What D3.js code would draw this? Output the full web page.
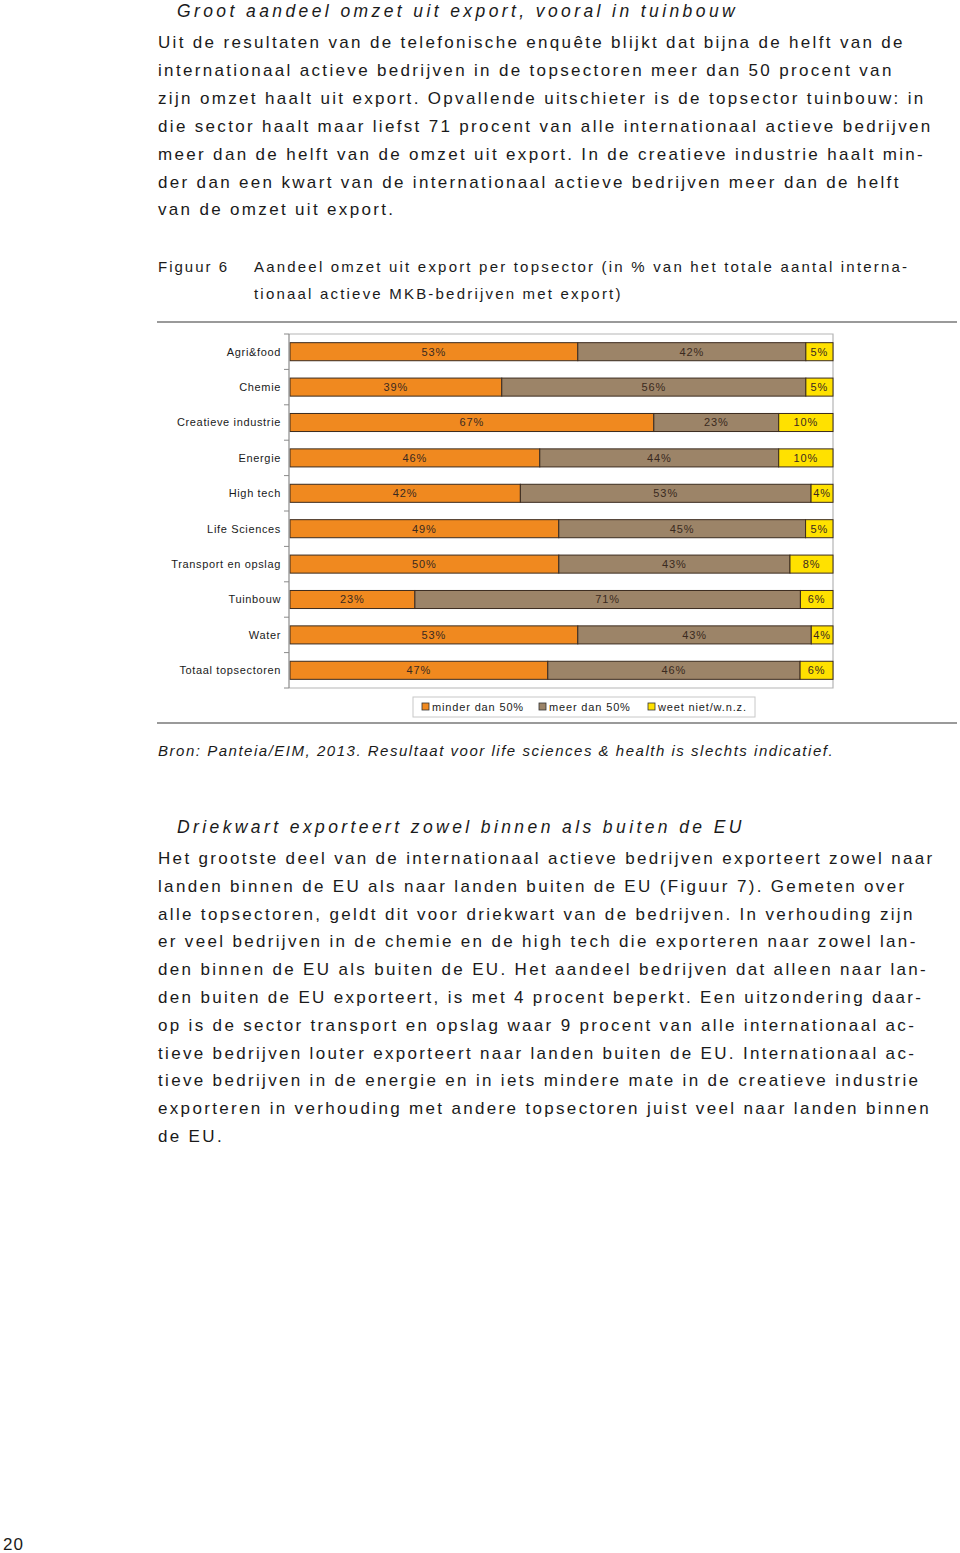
<!DOCTYPE html>
<html>
<head>
<meta charset="utf-8">
<script src="https://cdn.jsdelivr.net/npm/d3@7"></script>
<style>
  body { margin: 0; background: #fff; }
  svg { display: block; font-family: "Liberation Sans", Arial, sans-serif; }
</style>
</head>
<body>
<div id="page"></div>
<script>
// chart data
var sectors = ["Agri&food", "Chemie", "Creatieve industrie", "Energie", "High tech",
  "Life Sciences", "Transport en opslag", "Tuinbouw", "Water", "Totaal topsectoren"];
var minderDan50 = [53, 39, 67, 46, 42, 49, 50, 23, 53, 47];
var meerDan50 = [42, 56, 23, 44, 53, 45, 43, 71, 43, 46];
var weetNiet = [5, 5, 10, 10, 4, 5, 8, 6, 4, 6];
var seriesNames = ["minder dan 50%", "meer dan 50%", "weet niet/w.n.z."];
var seriesColors = ["#f0891f", "#9c8468", "#ffe100"];

// text on the page
var heading1 = "Groot aandeel omzet uit export, vooral in tuinbouw";
var para1 = [
  "Uit de resultaten van de telefonische enquête blijkt dat bijna de helft van de",
  "internationaal actieve bedrijven in de topsectoren meer dan 50 procent van",
  "zijn omzet haalt uit export. Opvallende uitschieter is de topsector tuinbouw: in",
  "die sector haalt maar liefst 71 procent van alle internationaal actieve bedrijven",
  "meer dan de helft van de omzet uit export. In de creatieve industrie haalt min-",
  "der dan een kwart van de internationaal actieve bedrijven meer dan de helft",
  "van de omzet uit export."
];
var captionLines = [
  "Aandeel omzet uit export per topsector (in % van het totale aantal interna-",
  "tionaal actieve MKB-bedrijven met export)"
];
var bron = "Bron: Panteia/EIM, 2013. Resultaat voor life sciences & health is slechts indicatief.";
var heading2 = "Driekwart exporteert zowel binnen als buiten de EU";
var para2 = [
  "Het grootste deel van de internationaal actieve bedrijven exporteert zowel naar",
  "landen binnen de EU als naar landen buiten de EU (Figuur 7). Gemeten over",
  "alle topsectoren, geldt dit voor driekwart van de bedrijven. In verhouding zijn",
  "er veel bedrijven in de chemie en de high tech die exporteren naar zowel lan-",
  "den binnen de EU als buiten de EU. Het aandeel bedrijven dat alleen naar lan-",
  "den buiten de EU exporteert, is met 4 procent beperkt. Een uitzondering daar-",
  "op is de sector transport en opslag waar 9 procent van alle internationaal ac-",
  "tieve bedrijven louter exporteert naar landen buiten de EU. Internationaal ac-",
  "tieve bedrijven in de energie en in iets mindere mate in de creatieve industrie",
  "exporteren in verhouding met andere topsectoren juist veel naar landen binnen",
  "de EU."
];

var width = 960, height = 1553;
var svg = d3.select("#page").append("svg")
  .attr("width", width)
  .attr("height", height);

var textColor = "#1a1a1a";

// headings and paragraphs
svg.append("text")
  .attr("x", 177).attr("y", 17)
  .style("font-size", "17.5px").style("font-style", "italic")
  .style("letter-spacing", "3.4px")
  .attr("fill", textColor)
  .text(heading1);

svg.selectAll(".p1")
  .data(para1).enter().append("text")
  .attr("class", "p1")
  .attr("x", 158)
  .attr("y", function (d, i) { return 48 + i * 27.9; })
  .style("font-size", "17px").style("letter-spacing", "2.33px")
  .attr("fill", textColor)
  .text(function (d) { return d; });

svg.append("text")
  .attr("x", 158).attr("y", 272)
  .style("font-size", "15px").style("letter-spacing", "2px")
  .attr("fill", textColor)
  .text("Figuur 6");

svg.selectAll(".cap")
  .data(captionLines).enter().append("text")
  .attr("class", "cap")
  .attr("x", 254)
  .attr("y", function (d, i) { return 272 + i * 27; })
  .style("font-size", "15px").style("letter-spacing", "2.2px")
  .attr("fill", textColor)
  .text(function (d) { return d; });

// rules around the figure
[322, 723].forEach(function (y) {
  svg.append("line")
    .attr("x1", 157).attr("x2", 957)
    .attr("y1", y).attr("y2", y)
    .attr("stroke", "#9a9a9a").attr("stroke-width", 2);
});

// chart
var plotLeft = 289, plotRight = 833, plotTop = 334, plotBottom = 688;

var rows = sectors.map(function (s, i) {
  return { sector: s, vals: [minderDan50[i], meerDan50[i], weetNiet[i]] };
});

var x = d3.scaleLinear().domain([0, 1]).range([plotLeft + 1, plotRight]);
var y = d3.scaleBand()
  .domain(sectors)
  .range([plotTop, plotBottom])
  .paddingInner(0.49)
  .paddingOuter(0.245);

// plot frame
svg.append("path")
  .attr("d", "M" + plotLeft + "," + plotTop + "H" + plotRight + "V" + plotBottom + "H" + plotLeft)
  .attr("fill", "none")
  .attr("stroke", "#b5b5b5")
  .attr("stroke-width", 1.2);

var bars = svg.selectAll(".bar")
  .data(rows).enter().append("g")
  .attr("class", "bar")
  .attr("transform", function (d) { return "translate(0," + y(d.sector) + ")"; });

bars.each(function (d) {
  var total = d3.sum(d.vals);
  var acc = 0;
  var g = d3.select(this);
  d.vals.forEach(function (v, k) {
    var x0 = x(acc / total);
    acc += v;
    var x1 = x(acc / total);
    g.append("rect")
      .attr("x", x0).attr("y", 0)
      .attr("width", x1 - x0)
      .attr("height", y.bandwidth())
      .attr("fill", seriesColors[k])
      .attr("stroke", "#3b2b1f")
      .attr("stroke-width", 1);
    g.append("text")
      .attr("x", (x0 + x1) / 2)
      .attr("y", y.bandwidth() / 2)
      .attr("dy", "0.36em")
      .attr("text-anchor", "middle")
      .style("font-size", "11px").style("letter-spacing", "0.9px")
      .attr("fill", "#3a2a20")
      .text(v + "%");
  });
});

// y axis with category labels
var yAxis = svg.append("g")
  .attr("transform", "translate(" + plotLeft + ",0)");

yAxis.append("line")
  .attr("x1", 0).attr("x2", 0)
  .attr("y1", plotTop).attr("y2", plotBottom)
  .attr("stroke", "#8a8a8a").attr("stroke-width", 1.2);

var tickYs = d3.range(sectors.length + 1).map(function (i) {
  return plotTop + i * y.step();
});
yAxis.selectAll(".tk")
  .data(tickYs).enter().append("line")
  .attr("class", "tk")
  .attr("x1", -5).attr("x2", 0)
  .attr("y1", function (d) { return d; })
  .attr("y2", function (d) { return d; })
  .attr("stroke", "#8a8a8a");

yAxis.selectAll(".lbl")
  .data(sectors).enter().append("text")
  .attr("class", "lbl")
  .attr("x", -8)
  .attr("y", function (d) { return y(d) + y.bandwidth() / 2; })
  .attr("dy", "0.36em")
  .attr("text-anchor", "end")
  .style("font-size", "11px").style("letter-spacing", "0.65px")
  .attr("fill", textColor)
  .text(function (d) { return d; });

// legend
var legend = svg.append("g").attr("transform", "translate(413,697)");
legend.append("rect")
  .attr("x", 0).attr("y", 0).attr("width", 342).attr("height", 20)
  .attr("fill", "#fff").attr("stroke", "#c8c8c8");
var legendX = [9, 126, 235];
seriesNames.forEach(function (name, k) {
  legend.append("rect")
    .attr("x", legendX[k]).attr("y", 6)
    .attr("width", 7).attr("height", 7)
    .attr("fill", seriesColors[k])
    .attr("stroke", "#333").attr("stroke-width", 0.8);
  legend.append("text")
    .attr("x", legendX[k] + 10).attr("y", 10)
    .attr("dy", "0.36em")
    .style("font-size", "11px").style("letter-spacing", "0.85px")
    .attr("fill", textColor)
    .text(name);
});

// source line
svg.append("text")
  .attr("x", 158).attr("y", 756)
  .style("font-size", "15px").style("font-style", "italic")
  .style("letter-spacing", "1.52px")
  .attr("fill", textColor)
  .text(bron);

svg.append("text")
  .attr("x", 177).attr("y", 833)
  .style("font-size", "17.5px").style("font-style", "italic")
  .style("letter-spacing", "3.4px")
  .attr("fill", textColor)
  .text(heading2);

svg.selectAll(".p2")
  .data(para2).enter().append("text")
  .attr("class", "p2")
  .attr("x", 158)
  .attr("y", function (d, i) { return 864 + i * 27.8; })
  .style("font-size", "17px").style("letter-spacing", "2.33px")
  .attr("fill", textColor)
  .text(function (d) { return d; });

svg.append("text")
  .attr("x", 3).attr("y", 1550)
  .style("font-size", "17px").style("letter-spacing", "1px")
  .attr("fill", textColor)
  .text("20");
</script>
</body>
</html>
